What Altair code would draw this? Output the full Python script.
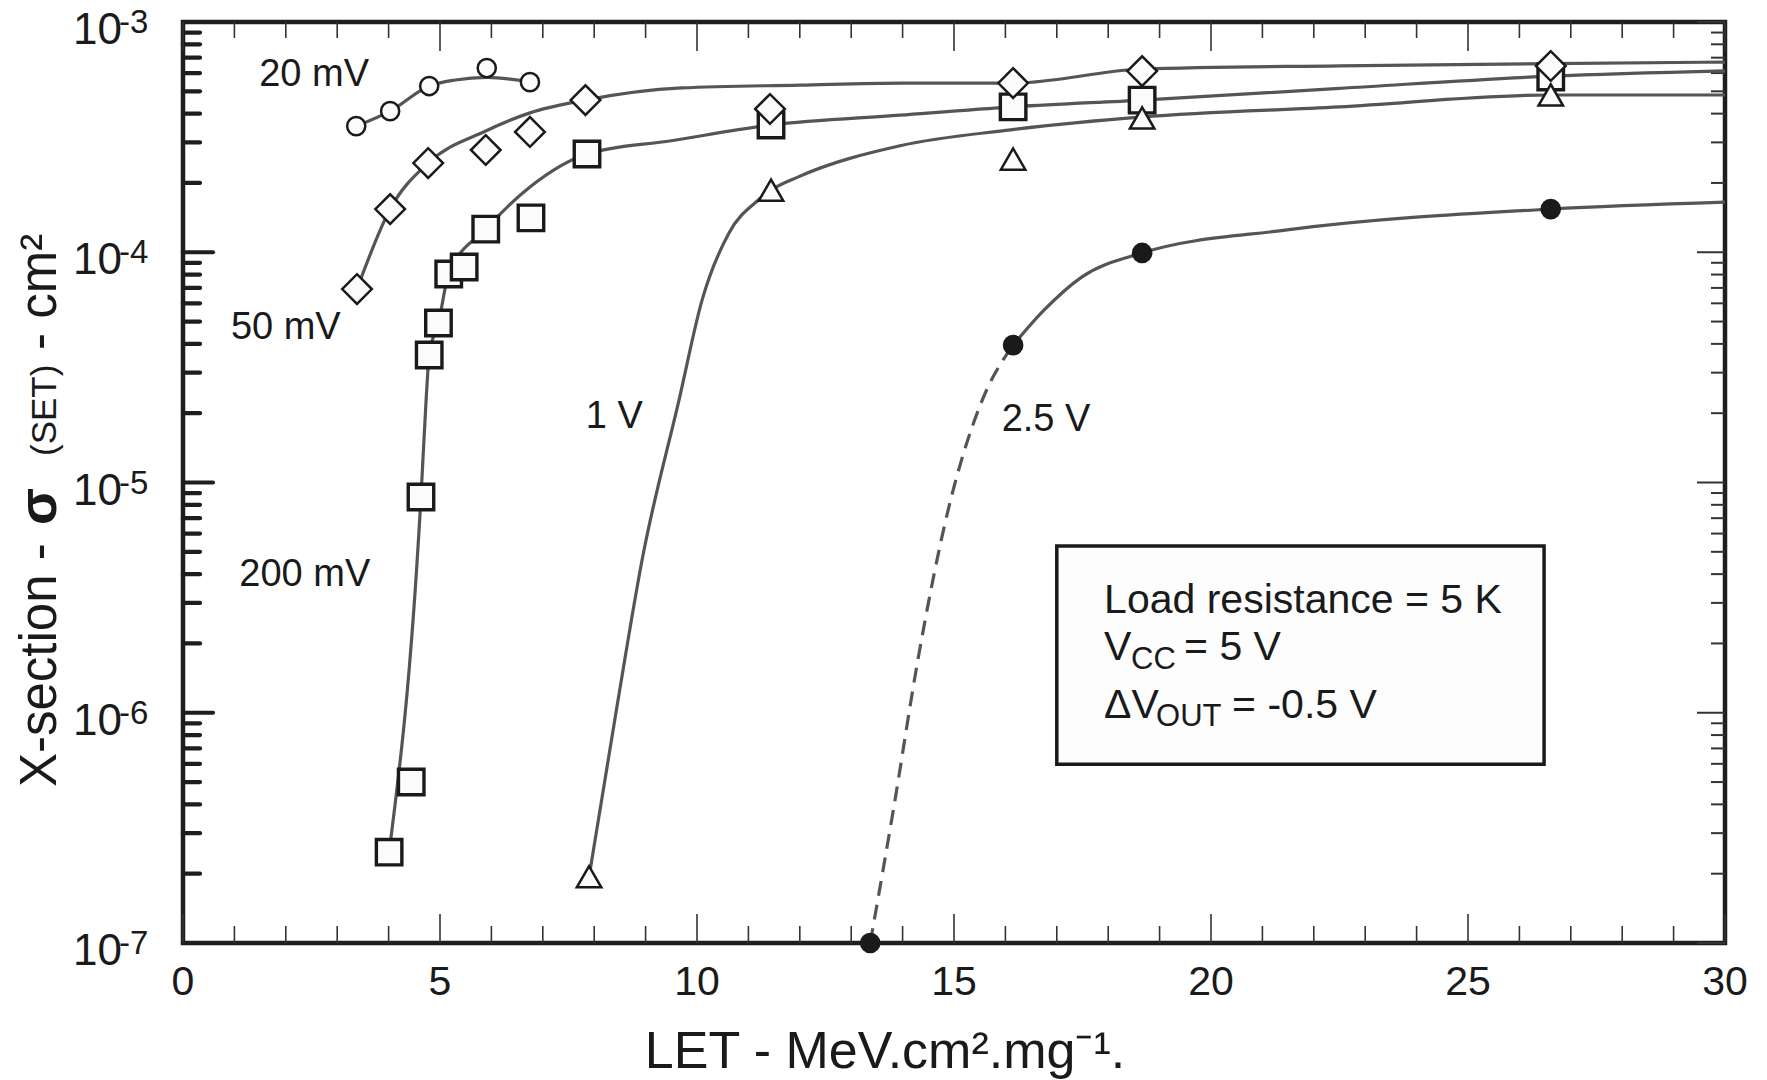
import altair as alt
import pandas as pd

FONT = "Liberation Sans"

# ---------------- data ----------------
# 20 mV (open circles)
c20_x = [3.37, 4.03, 4.79, 5.91, 6.75]
c20_y = [3.53e-4, 4.10e-4, 5.27e-4, 6.31e-4, 5.48e-4]
c20_curve_x = [3.37, 4.03, 4.79, 5.3, 5.91, 6.75]
c20_curve_y = [3.53e-4, 4.10e-4, 5.27e-4, 5.6e-4, 5.75e-4, 5.5e-4]

# 50 mV (diamonds)
d50_x = [3.385, 4.03, 4.77, 5.89, 6.75, 7.83, 11.42, 16.15, 18.66, 26.61]
d50_y = [6.92e-5, 1.54e-4, 2.44e-4, 2.78e-4, 3.33e-4, 4.58e-4, 4.19e-4, 5.43e-4, 6.12e-4, 6.44e-4]
d50_curve_x = [3.385, 4.03, 4.77, 5.9, 6.75, 7.83, 9.7, 12.0, 14.0, 16.15, 18.66, 22.5, 26.61, 30]
d50_curve_y = [6.92e-5, 1.54e-4, 2.44e-4, 3.37e-4, 4.03e-4, 4.58e-4, 5.17e-4, 5.32e-4, 5.43e-4,
               5.43e-4, 6.25e-4, 6.45e-4, 6.6e-4, 6.7e-4]

# 200 mV (squares)
s200_x = [4.01, 4.44, 4.63, 4.79, 4.97, 5.17, 5.47, 5.89, 6.77, 7.86, 11.44, 16.15, 18.66, 26.61]
s200_y = [2.48e-7, 5.0e-7, 8.65e-6, 3.58e-5, 4.93e-5, 8.05e-5, 8.63e-5, 1.26e-4, 1.41e-4,
          2.67e-4, 3.57e-4, 4.28e-4, 4.58e-4, 5.77e-4]
s200_curve_x = [4.01, 4.63, 4.73, 4.79, 4.97, 5.17, 5.89, 6.75, 7.86, 9.5, 11.44, 13.95, 16.15,
                18.66, 22.5, 26.61, 30]
s200_curve_y = [2.48e-7, 8.65e-6, 2.29e-5, 3.58e-5, 4.93e-5, 8.05e-5, 1.26e-4, 1.92e-4, 2.67e-4,
                3.05e-4, 3.57e-4, 3.94e-4, 4.28e-4, 4.58e-4, 5.15e-4, 5.82e-4, 6.14e-4]

# 1 V (triangles)
t1_x = [7.90, 11.44, 16.15, 18.66, 26.61]
t1_y = [1.94e-7, 1.86e-4, 2.54e-4, 3.83e-4, 4.82e-4]
t1_curve_x = [7.90, 8.42, 8.95, 9.65, 10.1, 10.62, 11.2, 11.44, 11.96, 13.95, 16.1, 18.66, 22.5, 26.61, 30]
t1_curve_y = [1.94e-7, 9.9e-7, 4.84e-6, 2.28e-5, 6.21e-5, 1.21e-4, 1.69e-4, 1.86e-4, 2.12e-4,
              2.9e-4, 3.4e-4, 3.87e-4, 4.28e-4, 4.82e-4, 4.82e-4]

# 2.5 V (filled circles)
f25_x = [13.37, 16.15, 18.66, 26.61]
f25_y = [1e-7, 3.95e-5, 9.93e-5, 1.54e-4]
f25_dash_x = [13.37, 13.83, 14.3, 14.88, 15.55, 16.15]
f25_dash_y = [1e-7, 3.9e-7, 1.71e-6, 7.5e-6, 2.28e-5, 3.95e-5]
f25_curve_x = [16.15, 16.75, 17.49, 18.66, 21.48, 26.61, 30]
f25_curve_y = [3.95e-5, 5.6e-5, 7.82e-5, 9.93e-5, 1.25e-4, 1.54e-4, 1.65e-4]

# curve labels
lab_text = ["20 mV", "50 mV", "200 mV", "1 V", "2.5 V"]
lab_x = [2.55, 2.0, 2.37, 8.39, 16.79]
lab_y = [5.89e-4, 4.69e-5, 3.96e-6, 1.93e-5, 1.87e-5]

# axis ticks / labels
x_major = [0, 5, 10, 15, 20, 25, 30]
x_major_labels = ["0", "5", "10", "15", "20", "25", "30"]
x_minor = [v for v in range(1, 30) if v % 5 != 0]
y_major = [1e-7, 1e-6, 1e-5, 1e-4, 1e-3]
y_major_exp = ["-7", "-6", "-5", "-4", "-3"]
y_minor = [m * 10.0 ** e for e in range(-7, -3) for m in range(2, 10)]

# info box
box_x = [17.0]
box_x2 = [26.48]
box_y = [5.3e-6]
box_y2 = [5.98e-7]

# ---------------- chart ----------------
W, H = 1542, 921
xs = alt.Scale(domain=[0, 30], nice=False, zero=False)
ys = alt.Scale(type="log", domain=[1e-7, 1e-3], nice=False)


def X(f="x"):
    return alt.X(f"{f}:Q", scale=xs, axis=None)


def Y(f="y"):
    return alt.Y(f"{f}:Q", scale=ys, axis=None)


def curve(xv, yv, dash=None, color="#555555"):
    df = pd.DataFrame({"x": xv, "y": yv})
    kw = dict(color=color, strokeWidth=3.2, interpolate="monotone", clip=False)
    if dash:
        kw["strokeDash"] = dash
    return alt.Chart(df).mark_line(**kw).encode(x=X(), y=Y())


def pts(xv, yv, shape, size, fill="#fbfbfb", sw=2.5):
    df = pd.DataFrame({"x": xv, "y": yv})
    return alt.Chart(df).mark_point(
        shape=shape, size=size, filled=False, fill=fill, stroke="#1a1a1a",
        strokeWidth=sw, opacity=1, fillOpacity=1, strokeOpacity=1, clip=False
    ).encode(x=X(), y=Y())


layers = []

# ticks
dfym = pd.DataFrame({"v": y_major, "e": y_major_exp, "b": ["10"] * len(y_major)})
dfyn = pd.DataFrame({"v": y_minor})
dfxm = pd.DataFrame({"v": x_major, "t": x_major_labels})
dfxn = pd.DataFrame({"v": x_minor})

tick_l = dict(color="#1e1e1e", strokeWidth=4.2, strokeCap="round")
tick_t = dict(color="#333333", strokeWidth=1.6)
layers += [
    alt.Chart(dfym).mark_rule(**tick_l).encode(y=Y("v"), x=alt.value(0), x2=alt.value(30)),
    alt.Chart(dfyn).mark_rule(**tick_l).encode(y=Y("v"), x=alt.value(0), x2=alt.value(17)),
    alt.Chart(dfym).mark_rule(color="#333333", strokeWidth=2).encode(y=Y("v"), x=alt.value(W - 28), x2=alt.value(W)),
    alt.Chart(dfyn).mark_rule(color="#333333", strokeWidth=2).encode(y=Y("v"), x=alt.value(W - 14), x2=alt.value(W)),
    alt.Chart(dfxm).mark_rule(**tick_t).encode(x=X("v"), y=alt.value(H - 29), y2=alt.value(H)),
    alt.Chart(dfxn).mark_rule(**tick_t).encode(x=X("v"), y=alt.value(H - 17), y2=alt.value(H)),
    alt.Chart(dfxm).mark_rule(**tick_t).encode(x=X("v"), y=alt.value(0), y2=alt.value(29)),
    alt.Chart(dfxn).mark_rule(**tick_t).encode(x=X("v"), y=alt.value(0), y2=alt.value(16)),
]

# tick labels
txt = dict(font=FONT, color="#1a1a1a")
layers += [
    alt.Chart(dfxm).mark_text(baseline="top", fontSize=41, **txt).encode(
        x=X("v"), y=alt.value(H + 20), text="t:N"),
    alt.Chart(dfym).mark_text(align="right", baseline="alphabetic", dy=22, fontSize=44, **txt).encode(
        y=Y("v"), x=alt.value(-61), text="b:N"),
    alt.Chart(dfym).mark_text(align="left", baseline="alphabetic", dy=11, fontSize=33, **txt).encode(
        y=Y("v"), x=alt.value(-64), text="e:N"),
]

# info box
dfbox = pd.DataFrame({"x": box_x, "x2": box_x2, "y": box_y, "y2": box_y2})
layers.append(
    alt.Chart(dfbox).mark_rect(fill="#fdfdfd", stroke="#1a1a1a", strokeWidth=3.5).encode(
        x=X("x"), x2="x2:Q", y=Y("y"), y2="y2:Q")
)


def btext(s, xv, yv, dx=0, dy=0, size=41):
    df = pd.DataFrame({"x": [xv], "y": [yv], "t": [s]})
    return alt.Chart(df).mark_text(align="left", baseline="alphabetic", dx=dx, dy=dy,
                                   fontSize=size, **txt).encode(x=X(), y=Y(), text="t:N")


bx = 17.92
layers += [
    btext("Load resistance = 5 K", bx, 2.71e-6),
    btext("V", bx, 1.69e-6),
    btext("CC", bx, 1.69e-6, dx=27, dy=9, size=31),
    btext("= 5 V", bx, 1.69e-6, dx=80),
    btext("\u0394V", bx, 9.48e-7),
    btext("OUT", bx, 9.48e-7, dx=52, dy=8, size=31),
    btext("= -0.5 V", bx, 9.48e-7, dx=128),
]

# curves
layers += [
    curve(c20_curve_x, c20_curve_y),
    curve(d50_curve_x, d50_curve_y),
    curve(s200_curve_x, s200_curve_y),
    curve(t1_curve_x, t1_curve_y),
    curve(f25_dash_x, f25_dash_y, dash=[15, 9]),
    curve(f25_curve_x, f25_curve_y),
]

# markers
layers += [
    pts(c20_x, c20_y, "circle", 330),
    pts(s200_x, s200_y, "square", 650, sw=3.4),
    pts(t1_x, t1_y, "triangle-up", 600),
    pts(d50_x, d50_y, "diamond", 880),
    pts(f25_x, f25_y, "circle", 330, fill="#1a1a1a"),
]

# curve labels
dflab = pd.DataFrame({"x": lab_x, "y": lab_y, "t": lab_text})
layers.append(
    alt.Chart(dflab).mark_text(fontSize=38, baseline="middle", **txt).encode(x=X(), y=Y(), text="t:N")
)


# axis titles (pixel-placed annotation text)
def ptext(s, px, py, size, angle=0, weight="normal", align="left", baseline="alphabetic"):
    df = pd.DataFrame({"t": [s]})
    return alt.Chart(df).mark_text(align=align, baseline=baseline, angle=angle, fontSize=size,
                                   fontWeight=weight, **txt).encode(
        x=alt.value(px), y=alt.value(py), text="t:N")


layers += [
    ptext("X-section -", -127, 765, 51, angle=270),
    ptext("\u03c3", -127, 503, 54, angle=270, weight="bold"),
    ptext("(SET)", -127, 434, 35, angle=270),
    ptext("- cm\u00b2", -127, 328, 51, angle=270),
    ptext("LET - MeV.cm\u00b2.mg\u207b\u00b9.", 702, 1046, 52, align="center"),
]

chart = alt.layer(*layers).properties(
    width=W, height=H,
    padding={"left": 183, "top": 22, "right": 42, "bottom": 137},
    autosize=alt.AutoSizeParams(type="none"),
    background="white",
).configure_view(stroke="#1e1e1e", strokeWidth=4.5)

chart.save("out.html", embed_options={"renderer": "svg", "actions": False})
